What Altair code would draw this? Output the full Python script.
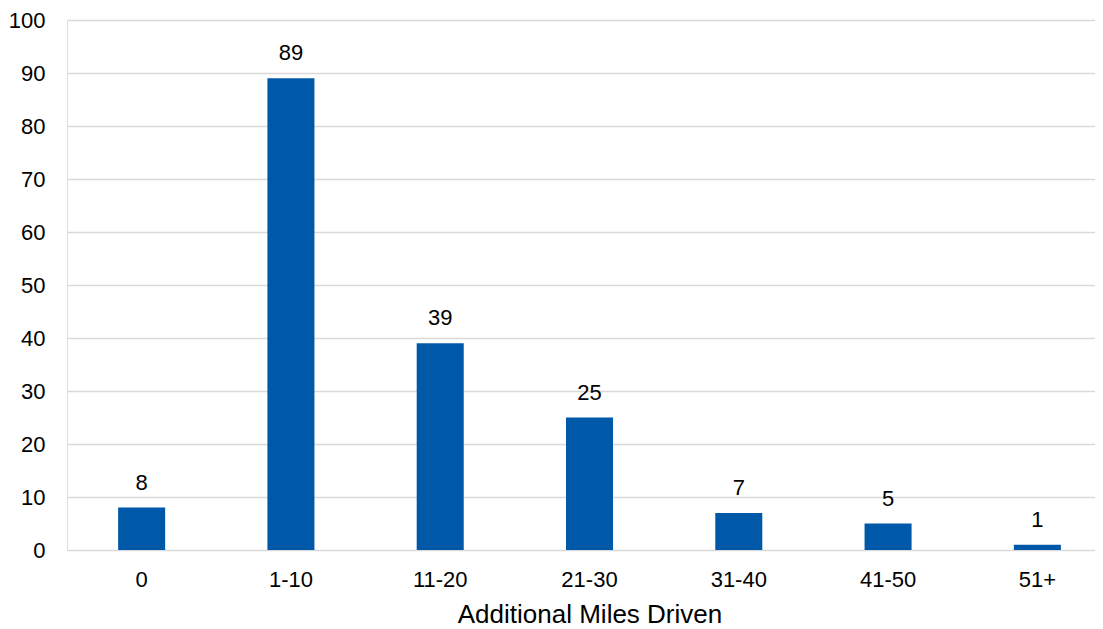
import altair as alt
import pandas as pd

categories = ["0", "1-10", "11-20", "21-30", "31-40", "41-50", "51+"]
values = [8, 89, 39, 25, 7, 5, 1]

df = pd.DataFrame({"cat": categories, "val": values})

FONT = "Liberation Sans"

x_enc = alt.X(
    "cat:N",
    sort=categories,
    title="Additional Miles Driven",
    scale=alt.Scale(paddingInner=0.685, paddingOuter=0.3425, range=[0, 1045]),
    axis=alt.Axis(
        labelAngle=0,
        ticks=False,
        domain=False,
        labelFontSize=22,
        labelFont=FONT,
        labelColor="#000000",
        labelPadding=19,
        titleFontSize=26,
        titleFont=FONT,
        titleFontWeight="normal",
        titleColor="#000000",
        titlePadding=11,
        grid=False,
    ),
)
y_enc = alt.Y(
    "val:Q",
    scale=alt.Scale(domain=[0, 100]),
    title=None,
    axis=alt.Axis(
        values=list(range(0, 101, 10)),
        ticks=False,
        domain=False,
        labelFontSize=22,
        labelFont=FONT,
        labelColor="#000000",
        labelPadding=22,
        gridColor="#d9d9d9",
        gridWidth=1.5,
    ),
)

bars = alt.Chart(df).mark_bar(color="#0058A8").encode(x=x_enc, y=y_enc)
labels = alt.Chart(df).mark_text(
    baseline="alphabetic", dy=-18, fontSize=22, font=FONT, color="#000000"
).encode(x=alt.X("cat:N", sort=categories), y="val:Q", text="val:Q")

chart = (
    alt.layer(bars, labels)
    .properties(
        width=1028,
        height=530,
        autosize=alt.AutoSizeParams(type="none"),
        padding={"left": 59, "top": 12, "right": 0, "bottom": 82},
    )
    .configure_view(stroke=None)
    .configure(background="white")
)

chart.save("out.html", embed_options={"renderer": "svg", "actions": False})
